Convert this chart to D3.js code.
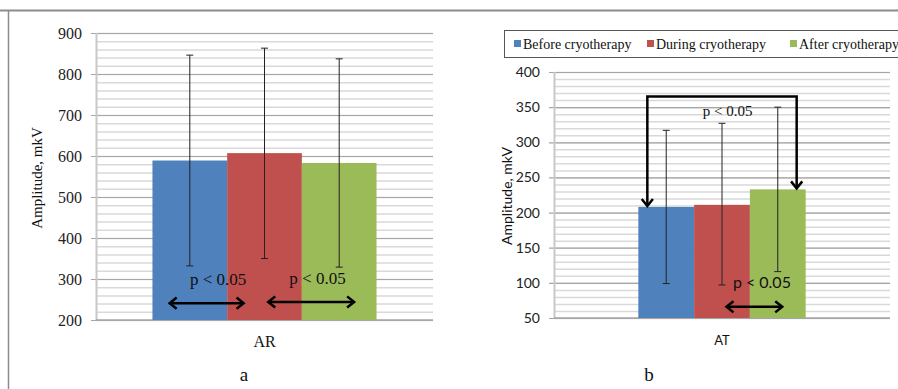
<!DOCTYPE html>
<html>
<head>
<meta charset="utf-8">
<script src="https://cdn.jsdelivr.net/npm/d3@7"></script>
<style>
  body { margin: 0; background: #fff; }
  svg { display: block; }
</style>
</head>
<body>
<div id="chart"></div>
<script>
// chart values
const series = ["Before cryotherapy", "During cryotherapy", "After cryotherapy"];
const colors = ["#4F81BD", "#C0504D", "#9BBB59"];

const arCategory = ["AR"];
const arMeans = [589, 607, 583];
const arLow = [332, 350, 329];
const arHigh = [846, 863, 837];
const arTicks = [200, 300, 400, 500, 600, 700, 800, 900];

const atCategory = ["AT"];
const atMeans = [208, 211, 233];
const atLow = [99, 97, 116];
const atHigh = [317, 327, 350];
const atTicks = [50, 100, 150, 200, 250, 300, 350, 400];

const width = 898;
const height = 389;
const serif = "'Liberation Serif', 'Times New Roman', serif";
const sans = "Lato, 'Liberation Sans', sans-serif";

const svg = d3.select("#chart")
  .append("svg")
    .attr("width", width)
    .attr("height", height);

// outer frame lines
svg.append("line").attr("x1", 0).attr("x2", width).attr("y1", 10.5).attr("y2", 10.5)
  .attr("stroke", "#8c8c8c").attr("stroke-width", 2);
svg.append("line").attr("x1", 8.5).attr("x2", 8.5).attr("y1", 10).attr("y2", height)
  .attr("stroke", "#8c8c8c").attr("stroke-width", 1.5);

// arrow head helper (open chevron)
function head(g, x, y, dir) {
  const s = 7;
  let d;
  if (dir === "left") d = `M${x + s},${y - s * 0.8}L${x},${y}L${x + s},${y + s * 0.8}`;
  if (dir === "right") d = `M${x - s},${y - s * 0.8}L${x},${y}L${x - s},${y + s * 0.8}`;
  if (dir === "down") d = `M${x - s * 0.8},${y - s}L${x},${y}L${x + s * 0.8},${y - s}`;
  g.append("path").attr("d", d).attr("fill", "none").attr("stroke", "#000")
    .attr("stroke-width", 2.5).attr("stroke-linejoin", "miter");
}

function doubleArrow(g, x1, x2, y) {
  g.append("line").attr("x1", x1).attr("x2", x2).attr("y1", y).attr("y2", y)
    .attr("stroke", "#000").attr("stroke-width", 2.5);
  head(g, x1, y, "left");
  head(g, x2, y, "right");
}

// generic panel builder
function build_panel(opt) {
  const g = svg.append("g");

  const Y = d3.scaleLinear().domain(opt.domain).range([opt.bottom, opt.top]);
  const X = d3.scaleBand().domain(opt.category).range([opt.left, opt.right])
              .paddingInner(0).paddingOuter(opt.outer);
  const XS = d3.scaleBand().domain(series).range([0, X.bandwidth()]);

  // minor gridlines
  g.append("g")
    .attr("transform", `translate(${opt.left},0)`)
    .call(d3.axisLeft(Y).tickValues(d3.range(opt.domain[0], opt.domain[1] + 0.1, opt.minor))
      .tickSize(-(opt.right - opt.left)).tickFormat(""))
    .call(a => a.select(".domain").remove())
    .call(a => a.selectAll("line").attr("stroke", "#d9d9d9").attr("stroke-width", 1.5));

  // major gridlines + labels
  g.append("g")
    .attr("transform", `translate(${opt.right},0)`)
    .call(d3.axisLeft(Y).tickValues(opt.ticks)
      .tickSize(opt.right - opt.left + 5).tickPadding(9))
    .call(a => a.select(".domain").remove())
    .call(a => a.selectAll("line").attr("stroke", "#a6a6a6").attr("stroke-width", 1.2))
    .call(a => a.selectAll("text").attr("font-family", opt.font)
      .attr("font-size", opt.tickSize).attr("fill", "#222"));

  // y axis line
  g.append("line").attr("x1", opt.left + 0.5).attr("x2", opt.left + 0.5)
    .attr("y1", opt.top).attr("y2", opt.bottom)
    .attr("stroke", "#c8c8c8").attr("stroke-width", 2);

  // x axis line
  g.append("line").attr("x1", opt.left).attr("x2", opt.right)
    .attr("y1", opt.bottom).attr("y2", opt.bottom)
    .attr("stroke", "#a6a6a6").attr("stroke-width", 1.5);

  const cat = opt.category[0];
  const rows = series.map((s, i) => ({
    s: s, c: colors[i], v: opt.means[i], lo: opt.low[i], hi: opt.high[i]
  }));

  // bars
  g.selectAll(".bar").data(rows).enter().append("rect")
    .attr("x", d => X(cat) + XS(d.s))
    .attr("y", d => Y(d.v))
    .attr("width", XS.bandwidth())
    .attr("height", d => opt.bottom - Y(d.v))
    .style("fill", d => d.c);

  // error bars
  const cx = d => X(cat) + XS(d.s) + XS.bandwidth() / 2;
  g.selectAll(".err").data(rows).enter().append("line")
    .attr("x1", cx).attr("x2", cx)
    .attr("y1", d => Y(d.hi)).attr("y2", d => Y(d.lo))
    .attr("stroke", "#222").attr("stroke-width", 1);
  ["hi", "lo"].forEach(k => {
    g.selectAll(".cap" + k).data(rows).enter().append("line")
      .attr("x1", d => cx(d) - 3.5).attr("x2", d => cx(d) + 3.5)
      .attr("y1", d => Y(d[k])).attr("y2", d => Y(d[k]))
      .attr("stroke", "#222").attr("stroke-width", 1);
  });

  // y title
  g.append("text")
    .attr("transform", `translate(${opt.titleX},${opt.titleY}) rotate(-90)`)
    .attr("text-anchor", "middle")
    .attr("font-family", opt.font).attr("font-size", opt.titleSize)
    .attr("fill", "#111")
    .text("Amplitude, mkV");

  // category label
  g.append("text")
    .attr("x", X(cat) + X.bandwidth() / 2).attr("y", opt.bottom + 27)
    .attr("text-anchor", "middle")
    .attr("font-family", opt.font).attr("font-size", opt.catSize).attr("fill", "#111")
    .text(cat);

  // panel letter
  g.append("text")
    .attr("x", opt.letterX).attr("y", 381)
    .attr("text-anchor", "middle")
    .attr("font-family", serif).attr("font-size", 19).attr("fill", "#111")
    .text(opt.letter);

  return {g: g, X: X, XS: XS, Y: Y, cat: cat};
}

// panel a
const pa = build_panel({
  category: arCategory, means: arMeans, low: arLow, high: arHigh, ticks: arTicks,
  domain: [200, 900], minor: 20, top: 33, bottom: 320, left: 96, right: 433, outer: 0.252,
  font: serif, tickSize: 16, titleSize: 15, titleX: 42, titleY: 178, catSize: 16,
  letter: "a", letterX: 244
});
{
  const {g, X, XS, Y, cat} = pa;
  const bx = s => X(cat) + XS(s);
  const bw = XS.bandwidth();
  doubleArrow(g, bx(series[0]) + bw * 0.23, bx(series[1]) + bw * 0.22, Y(241));
  doubleArrow(g, bx(series[1]) + bw * 0.55, bx(series[2]) + bw * 0.7, Y(244));
  g.append("text").attr("x", bx(series[1]) - bw * 0.12).attr("y", Y(286))
    .attr("text-anchor", "middle").attr("font-family", serif).attr("font-size", 17)
    .attr("fill", "#111").text("p < 0.05");
  g.append("text").attr("x", bx(series[2]) + bw * 0.21).attr("y", Y(288))
    .attr("text-anchor", "middle").attr("font-family", serif).attr("font-size", 17)
    .attr("fill", "#111").text("p < 0.05");
}

// panel b
const pb = build_panel({
  category: atCategory, means: atMeans, low: atLow, high: atHigh, ticks: atTicks,
  domain: [50, 400], minor: 10, top: 72, bottom: 318, left: 554, right: 890, outer: 0.504,
  font: sans, tickSize: 14, titleSize: 14, titleX: 512, titleY: 196, catSize: 13,
  letter: "b", letterX: 649
});
{
  const {g, X, XS, Y, cat} = pb;
  const bx = s => X(cat) + XS(s);
  const bw = XS.bandwidth();
  const xl = bx(series[0]) + 9;
  const xr = bx(series[2]) + bw - 9;
  const yt = Y(365);
  g.append("path")
    .attr("d", `M${xl},${Y(atMeans[0]) - 2}L${xl},${yt}L${xr},${yt}L${xr},${Y(atMeans[2]) - 2}`)
    .attr("fill", "none").attr("stroke", "#000").attr("stroke-width", 2.5);
  head(g, xl, Y(atMeans[0]) - 1, "down");
  head(g, xr, Y(atMeans[2]) - 1, "down");
  g.append("text").attr("x", bx(series[1]) + bw * 0.6).attr("y", Y(338))
    .attr("text-anchor", "middle").attr("font-family", serif).attr("font-size", 15)
    .attr("fill", "#111").text("p < 0.05");
  doubleArrow(g, bx(series[1]) + bw * 0.58, bx(series[2]) + bw * 0.58, Y(66));
  g.append("text").attr("x", bx(series[2]) - 17).attr("y", Y(93))
    .attr("font-family", sans).attr("font-size", 16)
    .attr("fill", "#111").text("p < 0.05");
}

// legend
const legend = svg.append("g");
legend.append("rect").attr("x", 504.5).attr("y", 30.5).attr("width", 400).attr("height", 27)
  .attr("fill", "#fff").attr("stroke", "#555").attr("stroke-width", 1);
const legX = [514, 647, 790];
series.forEach((s, i) => {
  legend.append("rect").attr("x", legX[i]).attr("y", 40).attr("width", 7).attr("height", 7)
    .attr("fill", colors[i]);
  legend.append("text").attr("x", legX[i] + 9).attr("y", 49)
    .attr("font-family", serif).attr("font-size", 14).attr("fill", "#111")
    .text(s);
});
</script>
</body>
</html>
